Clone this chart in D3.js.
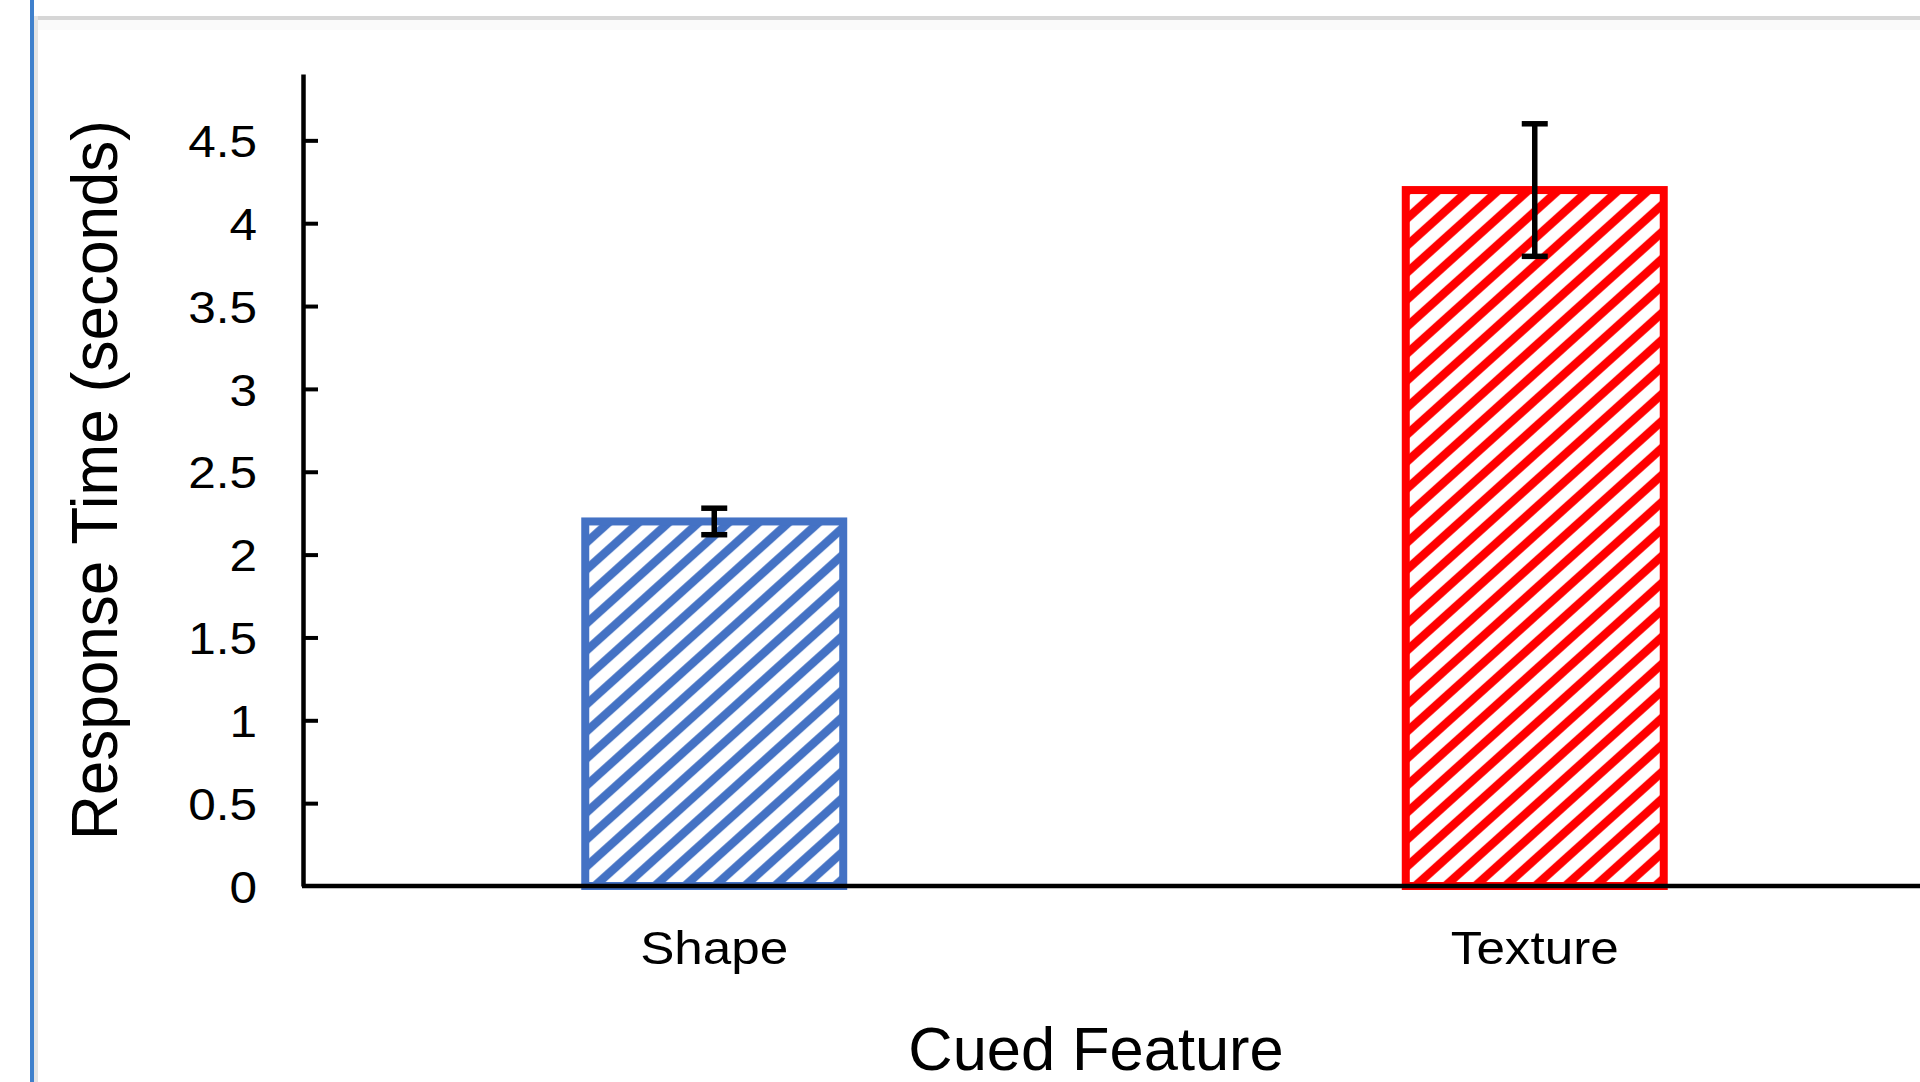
<!DOCTYPE html>
<html><head><meta charset="utf-8">
<script src="https://cdn.jsdelivr.net/npm/d3@7"></script>
<style>html,body{margin:0;padding:0;background:#fff;overflow:hidden}</style>
</head><body>
<svg id="chart" width="1920" height="1082"></svg>
<script>
// ---- data ----
const categories = ["Shape", "Texture"];
const meanValues = [2.2, 4.2];
const errorValues = [0.08, 0.4];
const barColors = ["#4472C4", "#FF0000"];
const yTickValues = [0, 0.5, 1, 1.5, 2, 2.5, 3, 3.5, 4, 4.5];
const yTickLabels = ["0", "0.5", "1", "1.5", "2", "2.5", "3", "3.5", "4", "4.5"];
const yAxisMax = 4.9;
const xTitle = "Cued Feature";
const yTitle = "Response Time (seconds)";

// ---- layout ----
const W = 1920, H = 1082;
const FONT = "'Liberation Sans', Arial, Helvetica, sans-serif";
const svg = d3.select("#chart");

// page frame
svg.append("rect").attr("x", 0).attr("y", 0).attr("width", W).attr("height", H).attr("fill", "#fff");
svg.append("rect").attr("x", 34).attr("y", 20).attr("width", W - 34).attr("height", 10).attr("fill", "#fafafa");
svg.append("rect").attr("x", 34).attr("y", 16).attr("width", W - 34).attr("height", 4).attr("fill", "#d6d6d6");
svg.append("rect").attr("x", 34).attr("y", 16).attr("width", 4).attr("height", H - 16).attr("fill", "#e4e4e4");
svg.append("rect").attr("x", 30).attr("y", 0).attr("width", 4).attr("height", H).attr("fill", "#3f80cc");

const axisX = 303, y0px = 886, pxPerUnit = 165.7;
const y = d3.scaleLinear().domain([0, yAxisMax]).range([y0px, y0px - yAxisMax * pxPerUnit]);
const x = d3.scaleBand().domain(categories).range([axisX, 1946]).paddingInner(0.6856).paddingOuter(0.344);

// hatch patterns (wide upward diagonal)
const defs = svg.append("defs");
const pw = 30, ph = 27;
categories.forEach((c, i) => {
  const p = defs.append("pattern").attr("id", "hatch" + i)
    .attr("patternUnits", "userSpaceOnUse").attr("width", pw).attr("height", ph)
    .attr("x", x(c) + 4);
  p.append("rect").attr("width", pw).attr("height", ph).attr("fill", "#fff");
  [-1, 0, 1].forEach(k => {
    p.append("line")
      .attr("x1", k * pw - pw).attr("y1", 2 * ph)
      .attr("x2", k * pw + 2 * pw).attr("y2", -ph)
      .attr("stroke", barColors[i]).attr("stroke-width", 8.5);
  });
});

// bars
svg.append("g").selectAll("rect").data(categories).join("rect")
  .attr("x", d => x(d))
  .attr("width", x.bandwidth())
  .attr("y", (d, i) => y(meanValues[i]))
  .attr("height", (d, i) => y(0) - y(meanValues[i]))
  .attr("fill", (d, i) => `url(#hatch${i})`)
  .attr("stroke", (d, i) => barColors[i])
  .attr("stroke-width", 8);

// error bars
const capW = 26;
const eb = svg.append("g").attr("stroke", "#000").attr("stroke-width", 5.5);
categories.forEach((c, i) => {
  const cx = x(c) + x.bandwidth() / 2;
  const hi = y(meanValues[i] + errorValues[i]), lo = y(meanValues[i] - errorValues[i]);
  eb.append("line").attr("x1", cx).attr("x2", cx).attr("y1", hi).attr("y2", lo);
  eb.append("line").attr("x1", cx - capW / 2).attr("x2", cx + capW / 2).attr("y1", hi).attr("y2", hi);
  eb.append("line").attr("x1", cx - capW / 2).attr("x2", cx + capW / 2).attr("y1", lo).attr("y2", lo);
});

// y axis
const yAxis = d3.axisLeft(y).tickValues(yTickValues)
  .tickFormat((d, i) => yTickLabels[i]).tickSizeInner(-15).tickSizeOuter(0).tickPadding(0);
const gy = svg.append("g").attr("transform", `translate(${axisX},0)`).call(yAxis);
gy.select(".domain").attr("stroke", "#000").attr("stroke-width", 4.5);
gy.selectAll(".tick line").attr("stroke", "#000").attr("stroke-width", 4);
gy.selectAll(".tick text")
  .attr("font-family", FONT).attr("font-size", 45).attr("fill", "#000")
  .attr("text-anchor", "end").attr("dy", "0.36em")
  .attr("x", null)
  .attr("transform", "translate(-46,0) scale(1.1,1)");
gy.selectAll(".tick").filter(d => d === 0).select("line").remove();

// x axis
const xAxis = d3.axisBottom(x).tickSize(0).tickPadding(0);
const gx = svg.append("g").attr("transform", `translate(0,${y(0)})`).call(xAxis);
gx.select(".domain").attr("stroke", "#000").attr("stroke-width", 4.5).attr("d", `M${axisX - 1},0H${W + 40}`);
gx.selectAll(".tick text")
  .attr("font-family", FONT).attr("font-size", 47).attr("fill", "#000")
  .attr("y", null).attr("dy", null)
  .attr("transform", "translate(0,78) scale(1.09,1)");

// titles
svg.append("text").text(xTitle)
  .attr("font-family", FONT).attr("font-size", 62).attr("fill", "#000")
  .attr("text-anchor", "middle")
  .attr("transform", "translate(1096,1070) scale(0.99,1)");

svg.append("text").text(yTitle)
  .attr("font-family", FONT).attr("font-size", 62).attr("fill", "#000")
  .attr("text-anchor", "middle")
  .attr("transform", "translate(117,480) rotate(-90) scale(1,1.05)");
</script>
</body></html>
